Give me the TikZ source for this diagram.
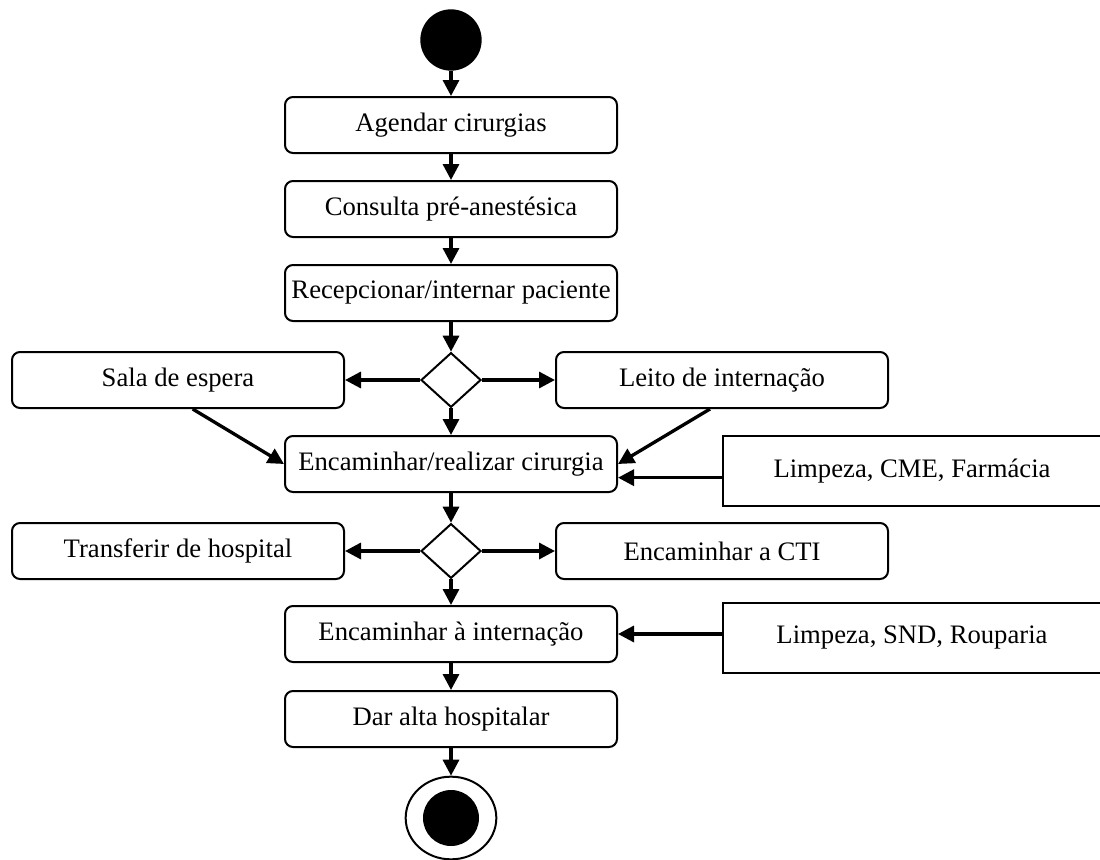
\documentclass[tikz,border=0pt]{standalone}
\usepackage{fontspec}
\setmainfont{Liberation Serif}
\usetikzlibrary{arrows.meta,shapes.geometric}

\tikzstyle{activity}=[draw,line width=1.5pt,rounded corners=6pt,minimum width=249pt,minimum height=42pt,font=\fontsize{20}{24}\selectfont]
\tikzstyle{support}=[draw,line width=1.5pt,minimum width=283.5pt,minimum height=53pt,font=\fontsize{20}{24}\selectfont]
\tikzstyle{choice}=[draw,line width=1.5pt,diamond,aspect=1.1,minimum width=45pt,minimum height=41pt,inner sep=0pt]
\tikzstyle{flow}=[line width=2.5pt,-{Triangle[length=12pt,width=12pt]}]

\begin{document}
\begin{tikzpicture}[x=0.75pt,y=-0.75pt]
\useasboundingbox (0,0) rectangle (1100,860);

\node[circle,fill=black,minimum size=46pt,inner sep=0pt] (start) at (451,40) {};
\node[activity] (agendar) at (451,125) {Agendar cirurgias};
\node[activity] (consulta) at (451,209) {Consulta pré-anestésica};
\node[activity] (recep) at (451,293) {Recepcionar/internar paciente};

\node[choice] (dec1) at (451,380) {};
\node[activity] (sala) at (178,380) {Sala de espera};
\node[activity] (leito) at (722,380) {Leito de internação};

\node[activity] (cirurgia) at (451,464) {Encaminhar/realizar cirurgia};
\node[support] (cme) at (912,471) {Limpeza, CME, Farmácia};

\node[choice] (dec2) at (451,551) {};
\node[activity] (transf) at (178,551) {Transferir de hospital};
\node[activity] (cti) at (722,551) {Encaminhar a CTI};

\node[activity] (intern) at (451,634) {Encaminhar à internação};
\node[support] (snd) at (912,638) {Limpeza, SND, Rouparia};
\node[activity] (alta) at (451,719) {Dar alta hospitalar};

\node[ellipse,draw,line width=1.5pt,minimum width=68pt,minimum height=62pt,inner sep=0pt] (final) at (451,818) {};
\node[circle,fill=black,minimum size=42pt,inner sep=0pt] (finalin) at (final.center) {};

% main sequence
\draw[flow] (start) -- (agendar);
\draw[flow] (agendar) -- (consulta);
\draw[flow] (consulta) -- (recep);
\draw[flow] (recep) -- (dec1);
\draw[flow] (dec1) -- (sala);
\draw[flow] (dec1) -- (leito);
\draw[flow] (dec1) -- (cirurgia);
\draw[flow] ([xshift=11pt]sala.south) -- (cirurgia.west);
\draw[flow] ([xshift=-9pt]leito.south) -- (cirurgia.east);
\draw[flow] ([yshift=-5pt]cme.west) -- ([yshift=-5pt]cme.west -| cirurgia.east);
\draw[flow] (cirurgia) -- (dec2);
\draw[flow] (dec2) -- (transf);
\draw[flow] (dec2) -- (cti);
\draw[flow] (dec2) -- (intern);
\draw[flow] (intern.east -| snd.west) -- (intern.east);
\draw[flow] (intern) -- (alta);
\draw[flow] (alta) -- (final);
\end{tikzpicture}
\end{document}
